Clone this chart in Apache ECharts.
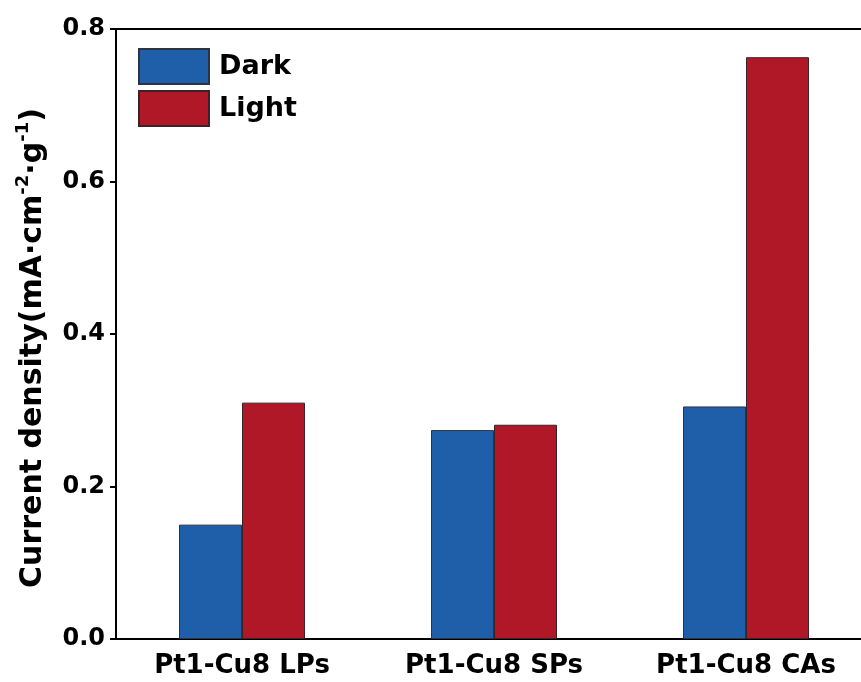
<!DOCTYPE html>
<html>
<head>
<meta charset="utf-8">
<script src="https://cdn.jsdelivr.net/npm/echarts@6/dist/echarts.min.js"></script>
<style>
  html, body { margin: 0; padding: 0; background: #fff; }
  #chart { width: 861px; height: 682px; }
</style>
</head>
<body>
<div id="chart"></div>
<script>
// Sample categories and measured current densities (mA·cm^-2·g^-1)
const categories = ['Pt1-Cu8 LPs', 'Pt1-Cu8 SPs', 'Pt1-Cu8 CAs'];
const darkValues = [0.150, 0.274, 0.305];
const lightValues = [0.310, 0.281, 0.763];
const yTicks = [0.0, 0.2, 0.4, 0.6, 0.8];

const FONT = '"DejaVu Sans", "Liberation Sans", Arial, sans-serif';

const chart = echarts.init(document.getElementById('chart'), null, { renderer: 'canvas' });

chart.setOption({
  backgroundColor: '#ffffff',
  animation: false,
  grid: {
    left: 116,
    top: 29,
    width: 756,
    bottom: 43,
    outerBoundsMode: 'none',
    containLabel: false,
    show: true,
    borderColor: '#000',
    borderWidth: 2,
    backgroundColor: 'transparent'
  },
  legend: {
    left: 133,
    top: 43,
    orient: 'vertical',
    itemWidth: 70,
    itemHeight: 35,
    itemGap: 5,
    icon: 'rect',
    textStyle: { fontFamily: FONT, fontWeight: 'bold', fontSize: 27, color: '#000', padding: [0, 0, 0, 5] },
    data: ['Dark', 'Light']
  },
  xAxis: {
    type: 'category',
    data: categories,
    axisLine: { show: true, lineStyle: { color: '#000', width: 2 } },
    axisTick: { show: false },
    axisLabel: {
      fontFamily: FONT, fontWeight: 'bold', fontSize: 26, color: '#000', margin: 14
    }
  },
  yAxis: {
    type: 'value',
    min: 0,
    max: 0.8,
    interval: 0.2,
    splitLine: { show: false },
    axisLine: { show: true, lineStyle: { color: '#000', width: 2 } },
    axisTick: { show: true, inside: false, length: 6, lineStyle: { color: '#000', width: 2 } },
    axisLabel: {
      fontFamily: FONT, fontWeight: 'bold', fontSize: 24, color: '#000', margin: 11,
      formatter: v => {
        const t = yTicks.find(x => Math.abs(x - v) < 1e-9);
        return t === undefined ? '' : t.toFixed(1);
      }
    },
    name: '{b|Current density(mA·cm}{s|-2}{b|·g}{s|-1}{b|)}',
    nameLocation: 'middle',
    nameRotate: 90,
    nameGap: 68,
    nameTextStyle: {
      padding: [0, 28, 0, 0],
      rich: {
        b: { fontFamily: FONT, fontWeight: 'bold', fontSize: 30, color: '#000', lineHeight: 34, verticalAlign: 'bottom' },
        s: { fontFamily: FONT, fontWeight: 'bold', fontSize: 18, color: '#000', lineHeight: 18, padding: [0, 0, 16, 0], verticalAlign: 'bottom' }
      }
    }
  },
  series: [
    {
      name: 'Dark',
      type: 'bar',
      data: darkValues,
      barGap: '0%',
      barCategoryGap: '50%',
      itemStyle: { color: '#1f5fa9', borderColor: '#2b3440', borderWidth: 1 }
    },
    {
      name: 'Light',
      type: 'bar',
      data: lightValues,
      barGap: '0%',
      barCategoryGap: '50%',
      itemStyle: { color: '#b01727', borderColor: '#3a2226', borderWidth: 1 }
    }
  ]
});
</script>
</body>
</html>
